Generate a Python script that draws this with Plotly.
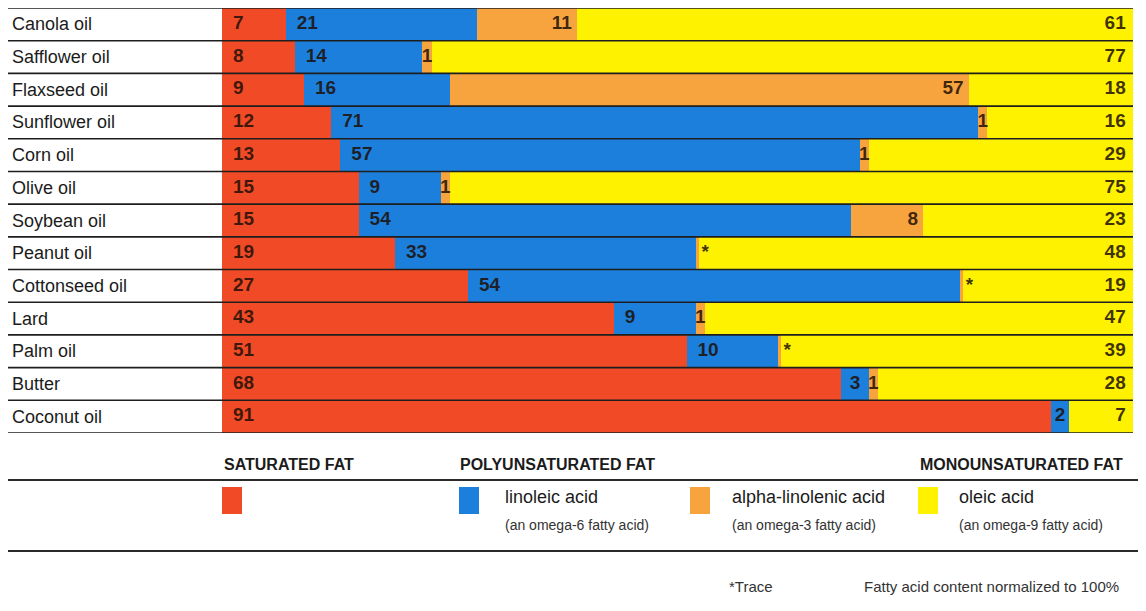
import plotly.graph_objects as go

# ---------------- data ----------------
oils = ["Canola oil", "Safflower oil", "Flaxseed oil", "Sunflower oil", "Corn oil",
        "Olive oil", "Soybean oil", "Peanut oil", "Cottonseed oil", "Lard",
        "Palm oil", "Butter", "Coconut oil"]
saturated = [7, 8, 9, 12, 13, 15, 15, 19, 27, 43, 51, 68, 91]
linoleic = [21, 14, 16, 71, 57, 9, 54, 33, 54, 9, 10, 3, 2]
# "*" = trace amount
alpha_linolenic = [11, 1, 57, 1, 1, 1, 8, "*", "*", 1, "*", 1, 0]
oleic = [61, 77, 18, 16, 29, 75, 23, 48, 19, 47, 39, 28, 7]
TRACE_AMOUNT = 0.35  # visual width of a trace amount

series_names = ["saturated fat", "linoleic acid", "alpha-linolenic acid", "oleic acid"]
colors = ["#f04b26", "#1c7fdc", "#f7a43e", "#fff200"]

# ---------------- geometry (page pixels; page body has an 8px margin) ----------------
OFF = 8
FIG_W, FIG_H = 1146 - 2 * OFF, 611 - 2 * OFF
L, R_EDGE, T, B = 222, 1133, 8, 433          # plot area in page pixels
W, H = R_EDGE - L, B - T


def px(x):
    return (x - L) / W


def py(y):
    return (B - y) / H


alpha_vals = [TRACE_AMOUNT if a == "*" else a for a in alpha_linolenic]
alpha_text = ["*" if a == "*" else ("" if a == 0 else str(a)) for a in alpha_linolenic]

LABEL_FONT = "Liberation Sans, Arial, sans-serif"
INK = "#1b1b1b"
NUM_INK = "rgba(30,15,5,0.85)"

fig = go.Figure()
for name, vals, col in zip(series_names, [saturated, linoleic, alpha_vals, oleic], colors):
    fig.add_trace(go.Bar(
        y=oils, x=vals, orientation="h", name=name,
        marker=dict(color=col, line=dict(width=0)),
        hoverinfo="x+y+name", showlegend=False,
    ))

# ---------------- value labels ----------------
pad = 1.2
xs, ys, ts, pos = [], [], [], []
for i, oil in enumerate(oils):
    s, l, a, o = saturated[i], linoleic[i], alpha_vals[i], oleic[i]
    xs.append(pad); ys.append(oil); ts.append(str(s)); pos.append("middle right")
    if l <= 3:
        xs.append(s + l / 2); pos.append("middle center")
    else:
        xs.append(s + pad); pos.append("middle right")
    ys.append(oil); ts.append(str(l))
    if alpha_text[i]:
        start = s + l
        if alpha_text[i] == "*":
            xs.append(start + a + 0.7); pos.append("middle center")
        elif a <= 3:
            xs.append(start + a / 2); pos.append("middle center")
        else:
            xs.append(start + a - 0.6); pos.append("middle left")
        ys.append(oil); ts.append(alpha_text[i])
    end = min(s + l + a + o, 100)
    xs.append(end - 0.8); ys.append(oil); ts.append(str(o)); pos.append("middle left")

fig.add_trace(go.Scatter(
    x=xs, y=ys, text=ts, mode="text", textposition=pos,
    textfont=dict(family=LABEL_FONT, size=19, color=NUM_INK, weight="bold"),
    hoverinfo="skip", showlegend=False, cliponaxis=False,
))

shapes = []
annotations = []

for k in range(len(oils) + 1):
    shapes.append(dict(type="line", xref="paper", yref="y",
                       x0=px(5), x1=px(R_EDGE), y0=k - 0.5, y1=k - 0.5,
                       line=dict(color="#1e1e1e", width=1.6), layer="above"))

for oil in oils:
    annotations.append(dict(xref="paper", yref="y", x=px(10), y=oil, text=oil,
                            xanchor="left", yanchor="middle", showarrow=False,
                            font=dict(family=LABEL_FONT, size=18, color=INK)))

# ---------------- key ----------------
headers = [("SATURATED FAT", 222), ("POLYUNSATURATED FAT", 458), ("MONOUNSATURATED FAT", 918)]
for txt, x in headers:
    annotations.append(dict(xref="paper", yref="paper", x=px(x), y=py(465), text=txt,
                            xanchor="left", yanchor="middle", showarrow=False,
                            font=dict(family=LABEL_FONT, size=16, color=INK, weight="bold")))

for y in (480, 551):
    shapes.append(dict(type="line", xref="paper", yref="paper",
                       x0=px(8), x1=px(1146), y0=py(y), y1=py(y),
                       line=dict(color="#2a2a2a", width=1.8)))

swatch_x = [222, 459, 690, 918]
for col, x in zip(colors, swatch_x):
    shapes.append(dict(type="rect", xref="paper", yref="paper",
                       x0=px(x), x1=px(x + 20), y0=py(514), y1=py(487),
                       fillcolor=col, line=dict(width=0)))

key_text = [("linoleic acid", "(an omega-6 fatty acid)", 503),
            ("alpha-linolenic acid", "(an omega-3 fatty acid)", 730),
            ("oleic acid", "(an omega-9 fatty acid)", 957)]
for main, sub, x in key_text:
    annotations.append(dict(xref="paper", yref="paper", x=px(x), y=py(497), text=main,
                            xanchor="left", yanchor="middle", showarrow=False,
                            font=dict(family=LABEL_FONT, size=18, color=INK)))
    annotations.append(dict(xref="paper", yref="paper", x=px(x), y=py(525), text=sub,
                            xanchor="left", yanchor="middle", showarrow=False,
                            font=dict(family=LABEL_FONT, size=14, color="#333333")))

annotations.append(dict(xref="paper", yref="paper", x=px(727), y=py(586), text="*Trace",
                        xanchor="left", yanchor="middle", showarrow=False,
                        font=dict(family=LABEL_FONT, size=15, color="#333333")))
annotations.append(dict(xref="paper", yref="paper", x=px(862), y=py(586),
                        text="Fatty acid content normalized to 100%",
                        xanchor="left", yanchor="middle", showarrow=False,
                        font=dict(family=LABEL_FONT, size=15, color="#333333")))

fig.update_layout(
    width=FIG_W, height=FIG_H,
    margin=dict(l=L - OFF, r=FIG_W - (R_EDGE - OFF), t=T - OFF, b=FIG_H - (B - OFF), pad=0),
    barmode="stack", bargap=0,
    paper_bgcolor="white", plot_bgcolor="white",
    xaxis=dict(range=[0, 100], visible=False, fixedrange=True),
    yaxis=dict(categoryorder="array", categoryarray=oils, range=[12.5, -0.5],
               showticklabels=False, showgrid=False, zeroline=False, fixedrange=True),
    shapes=shapes, annotations=annotations,
    showlegend=False,
)

fig.write_html("out.html")
